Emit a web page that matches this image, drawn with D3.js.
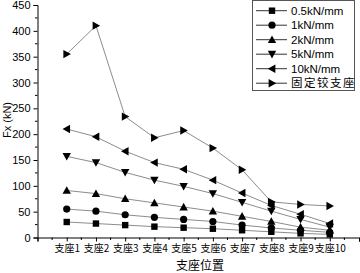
<!DOCTYPE html>
<html lang="zh">
<head>
<meta charset="utf-8">
<script src="https://cdn.jsdelivr.net/npm/d3@7"></script>
<style>
  body { margin: 0; background: #fff; }
  text { font-family: Arial, "Liberation Sans", sans-serif; fill: #000; }
  .cjk { font-family: "Noto Sans CJK SC", sans-serif; }
</style>
</head>
<body>
<div id="chart"></div>
<script>
var categories = ["支座1","支座2","支座3","支座4","支座5","支座6","支座7","支座8","支座9","支座10"];
var seriesNames = ["0.5kN/mm","1kN/mm","2kN/mm","5kN/mm","10kN/mm","固定铰支座"];
var s05 = [30, 27, 24, 21, 19, 17, 14, 11, 8, 6];
var s1 = [55, 51, 44, 39, 35, 31, 24, 18.5, 14, 10];
var s2 = [91, 85, 75, 67, 59, 51, 41, 31, 20, 14];
var s5 = [157, 145, 126, 111, 99, 85, 68, 51, 35, 20];
var s10 = [210, 195, 167, 145, 132, 111, 86, 62, 45, 27];
var sFixed = [355, 410, 234, 193, 207, 173, 131, 69, 64, 61];
var yTicks = [0, 50, 100, 150, 200, 250, 300, 350, 400, 450];

var allSeries = [s05, s1, s2, s5, s10, sFixed];
var markers = ["square", "circle", "up", "down", "left", "right"];

var w = 360, h = 273;
var svg = d3.select("#chart").append("svg").attr("width", w).attr("height", h);

var x = d3.scaleLinear().domain([0, 11]).range([37.5, 359]);
var y = d3.scaleLinear().domain([0, 450]).range([237.5, 5]);

// axes
var yAxis = d3.axisLeft(y).tickValues(yTicks).tickSize(4).tickPadding(3);
var gy = svg.append("g").attr("transform", "translate(" + x(0) + ",0)").call(yAxis);
gy.selectAll("text").style("font-size", "11px");
gy.append("g").selectAll("line").data(d3.range(25, 450, 50)).enter().append("line")
  .attr("x1", -2.5).attr("x2", 0).attr("y1", d => y(d)).attr("y2", d => y(d)).attr("stroke", "#000");

var xAxis = d3.axisBottom(x).tickValues(d3.range(0, 12)).tickSize(4).tickPadding(3)
  .tickFormat(d => (d >= 1 && d <= 10) ? categories[d - 1] : "");
var gx = svg.append("g").attr("transform", "translate(0," + y(0) + ")").call(xAxis);
gx.selectAll("text").attr("class", "cjk").style("font-size", "10px");
gx.append("g").selectAll("line").data(d3.range(0.5, 11, 1)).enter().append("line")
  .attr("x1", d => x(d)).attr("x2", d => x(d)).attr("y1", 0).attr("y2", 2.5).attr("stroke", "#000");
svg.selectAll(".domain").attr("stroke", "#000");

svg.append("text").attr("class", "cjk").attr("x", 200).attr("y", 269.5)
  .attr("text-anchor", "middle").style("font-size", "12px").text("支座位置");
svg.append("text").attr("transform", "translate(11,120) rotate(-90)")
  .attr("text-anchor", "middle").style("font-size", "11px").text("Fx (kN)");

// symbols
function sym(type, cx, cy, g) {
  if (type === "square") {
    g.append("rect").attr("x", cx - 3.2).attr("y", cy - 3.2).attr("width", 6.4).attr("height", 6.4).attr("fill", "#000");
  } else if (type === "circle") {
    g.append("circle").attr("cx", cx).attr("cy", cy).attr("r", 3.6).attr("fill", "#000");
  } else {
    var s = 4.2;
    var pts = {
      up: [[0, -s], [s, s * 0.8], [-s, s * 0.8]],
      down: [[0, s], [s, -s * 0.8], [-s, -s * 0.8]],
      left: [[-s, 0], [s * 0.8, -s], [s * 0.8, s]],
      right: [[s, 0], [-s * 0.8, -s], [-s * 0.8, s]]
    }[type];
    g.append("path").attr("d", d3.line()(pts.map(p => [cx + p[0], cy + p[1]])) + "Z").attr("fill", "#000");
  }
}

var line = d3.line().x((d, i) => x(i + 1)).y(d => y(d));
var plot = svg.append("g");
allSeries.forEach(function (vals, k) {
  plot.append("path").attr("d", line(vals)).attr("fill", "none").attr("stroke", "#8c8c8c").attr("stroke-width", 1);
});
allSeries.forEach(function (vals, k) {
  vals.forEach(function (v, i) { sym(markers[k], x(i + 1), y(v), plot); });
});

// legend
var lg = svg.append("g");
lg.append("rect").attr("x", 252.5).attr("y", 0.5).attr("width", 102).attr("height", 90)
  .attr("fill", "#fff").attr("stroke", "#555").attr("stroke-width", 1);
seriesNames.forEach(function (name, k) {
  var cy = 10.7 + k * 14.5;
  lg.append("line").attr("x1", 256).attr("x2", 287).attr("y1", cy).attr("y2", cy).attr("stroke", "#333");
  sym(markers[k], 272, cy, lg);
  lg.append("text").attr("x", 291).attr("y", cy + 4).attr("class", k === 5 ? "cjk" : null)
    .style("font-size", "11.5px").style("letter-spacing", k === 5 ? "1.5px" : null).text(name);
});
</script>
</body>
</html>
